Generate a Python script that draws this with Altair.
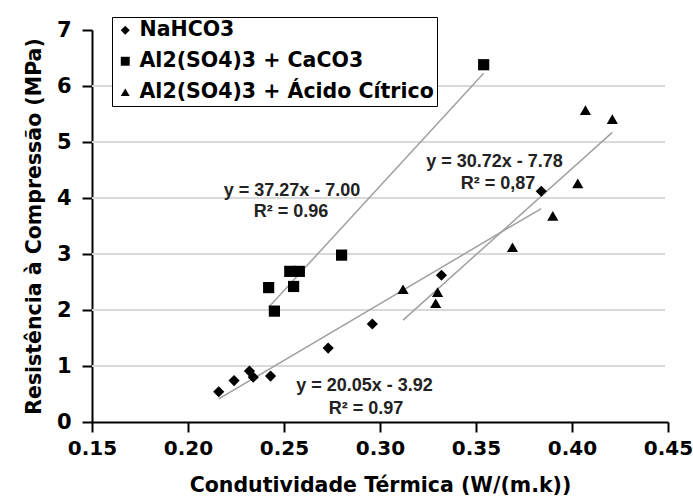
import altair as alt
import pandas as pd

series_names = ["NaHCO3", "Al2(SO4)3 + CaCO3", "Al2(SO4)3 + Ácido Cítrico"]
na_x = [0.216, 0.224, 0.232, 0.234, 0.243, 0.273, 0.296, 0.332, 0.384]
na_y = [0.54, 0.74, 0.91, 0.80, 0.82, 1.32, 1.75, 2.62, 4.12]
ca_x = [0.242, 0.245, 0.253, 0.255, 0.258, 0.280, 0.354]
ca_y = [2.40, 1.98, 2.69, 2.42, 2.69, 2.98, 6.38]
ac_x = [0.312, 0.330, 0.329, 0.369, 0.390, 0.403, 0.407, 0.421]
ac_y = [2.37, 2.32, 2.12, 3.12, 3.68, 4.26, 5.57, 5.41]

eq_text = ["y = 37.27x - 7.00", "R² = 0.96", "y = 30.72x - 7.78", "R² = 0,87",
           "y = 20.05x - 3.92", "R² = 0.97"]
eq_x = [0.2542, 0.2536, 0.3596, 0.3615, 0.2919, 0.2927]
eq_y = [4.125, 3.75, 4.643, 4.25, 0.643, 0.232]

x_ticks = [0.15, 0.20, 0.25, 0.30, 0.35, 0.40, 0.45]
y_ticks = [0, 1, 2, 3, 4, 5, 6, 7]
grid_vals = [1, 2, 3, 4, 5, 6]

rows = []
for name, xs, ys in zip(series_names, [na_x, ca_x, ac_x], [na_y, ca_y, ac_y]):
    for a, b in zip(xs, ys):
        rows.append({"series": name, "x": a, "y": b})
df = pd.DataFrame(rows)
eq_df = pd.DataFrame({"t": eq_text, "x": eq_x, "y": eq_y})
grid_df = pd.DataFrame({"y": grid_vals})

FONT = "DejaVu Sans"

xscale = alt.Scale(domain=[0.15, 0.45], nice=False, zero=False)
yscale = alt.Scale(domain=[0, 7], nice=False)

xaxis = alt.Axis(values=x_ticks, format=".2f", grid=False, domainColor="black",
                 domainWidth=2, tickColor="black", tickWidth=2, tickSize=10,
                 labelFont=FONT, labelFontSize=20, labelFontWeight="bold",
                 labelColor="black", labelPadding=6, labelFlush=False,
                 title="Condutividade Térmica (W/(m.k))", titleFont=FONT,
                 titleFontSize=20.5, titleFontWeight="bold", titleColor="black",
                 titlePadding=17)
yaxis = alt.Axis(values=y_ticks, format="d", grid=False, domainColor="black",
                 domainWidth=2, tickColor="black", tickWidth=2, tickSize=10,
                 labelFont=FONT, labelFontSize=21, labelFontWeight="bold",
                 labelColor="black", labelPadding=11, labelFlush=False,
                 title="Resistência à Compressão (MPa)", titleFont=FONT,
                 titleFontSize=20.5, titleFontWeight="bold", titleColor="black",
                 titlePadding=12)

grid = alt.Chart(grid_df).mark_rule(color="#d9d9d9", strokeWidth=2).encode(
    y=alt.Y("y:Q", scale=yscale, axis=yaxis),
    x=alt.value(0), x2=alt.value(573),
)

trend = alt.Chart(df).transform_regression(
    "x", "y", groupby=["series"]
).mark_line(color="#a0a0a0", strokeWidth=1.5).encode(
    x=alt.X("x:Q", scale=xscale, axis=xaxis),
    y=alt.Y("y:Q", scale=yscale),
    detail="series:N",
)

points = alt.Chart(df).mark_point(filled=True, color="black", opacity=1, size=125).encode(
    x=alt.X("x:Q", scale=xscale),
    y=alt.Y("y:Q", scale=yscale),
    shape=alt.Shape("series:N",
                    scale=alt.Scale(domain=series_names,
                                    range=["diamond", "square", "triangle-up"]),
                    legend=alt.Legend(title=None, orient="none", legendX=20, legendY=-13,
                                      fillColor="white", strokeColor="black",
                                      padding=3, labelFont=FONT, labelFontSize=20.5,
                                      labelFontWeight="bold", labelColor="black",
                                      symbolSize=80, symbolFillColor="black",
                                      symbolStrokeColor="black", rowPadding=10,
                                      labelOffset=4, labelLimit=400)),
)

labels = alt.Chart(eq_df).mark_text(font="Liberation Sans", fontSize=18,
                                    fontWeight="bold", color="#222222",
                                    align="center", baseline="middle").encode(
    x=alt.X("x:Q", scale=xscale),
    y=alt.Y("y:Q", scale=yscale),
    text="t:N",
)

chart = alt.layer(grid, trend, points, labels).properties(
    width=576, height=392,
    padding={"left": 92, "top": 30, "right": 25, "bottom": 78},
    autosize="none",
    background="white",
).configure_view(stroke=None)

chart.save("out.html", embed_options={"renderer": "svg", "actions": False})
